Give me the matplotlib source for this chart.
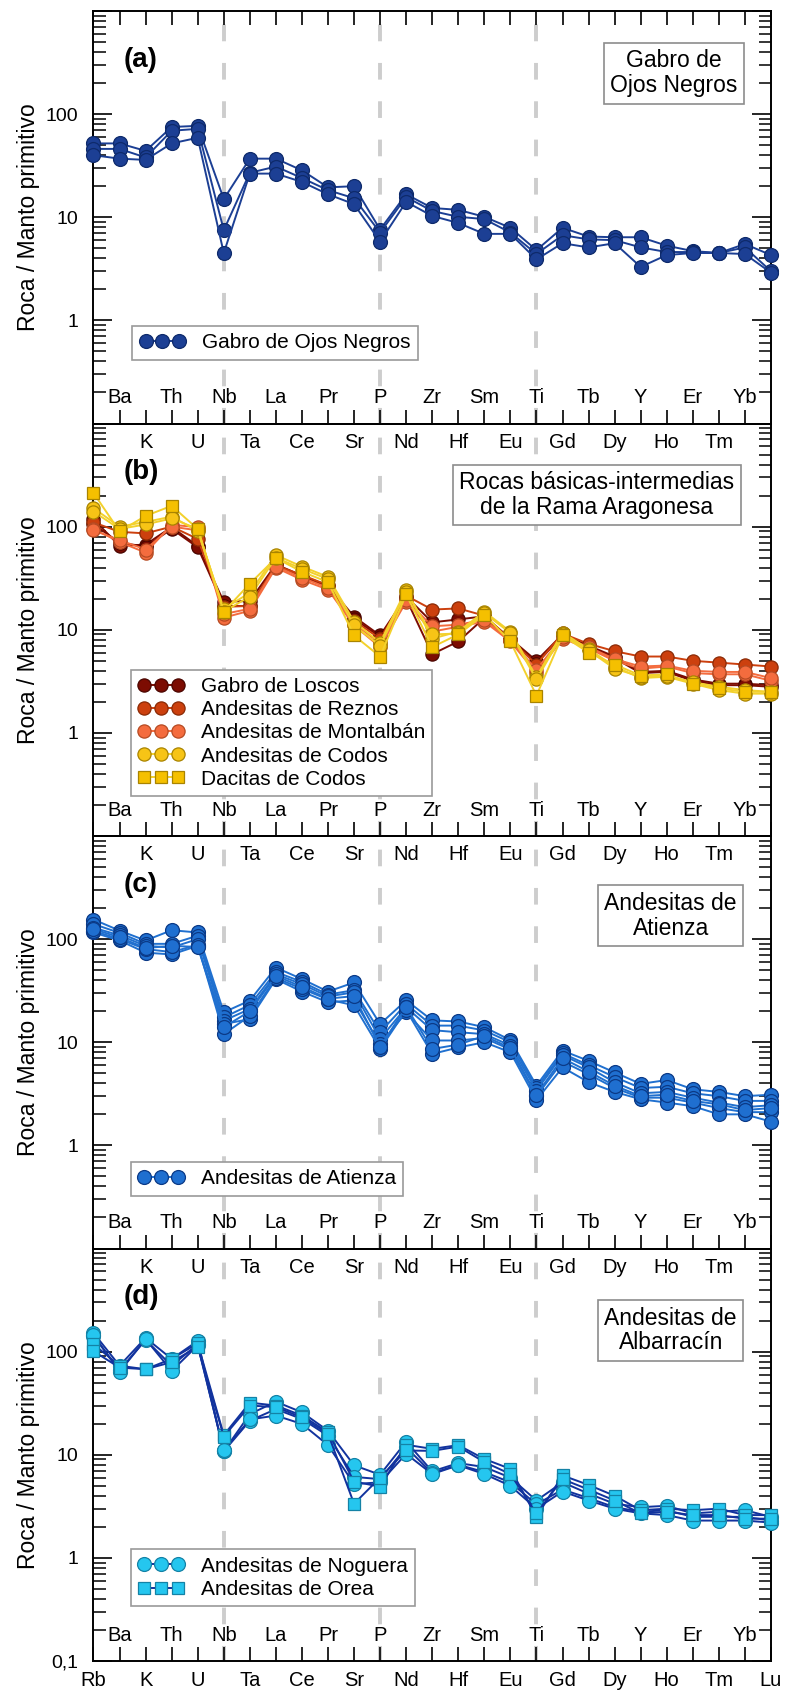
import matplotlib
matplotlib.use("Agg")
import matplotlib.pyplot as plt
from matplotlib.lines import Line2D
from matplotlib.ticker import LogLocator, NullFormatter

plt.rcParams['font.family'] = ['Liberation Sans', 'DejaVu Sans']
plt.rcParams['lines.scale_dashes'] = False

elements = ['Rb', 'Ba', 'K', 'Th', 'U', 'Nb', 'Ta', 'La', 'Ce', 'Pr', 'Sr', 'P', 'Nd', 'Zr',
            'Hf', 'Sm', 'Eu', 'Ti', 'Gd', 'Tb', 'Dy', 'Y', 'Ho', 'Er', 'Tm', 'Yb', 'Lu']
anomaly_elements = ['Nb', 'P', 'Ti']

# (a) Gabro de Ojos Negros
ojos_negros = [
    [52, 52, 44, 75, 77, 15, 37, 37, 28.5, 19.5, 20, 7.6, 16.7, 12.3, 11.8, 10.1, 7.9, 4.8, 7.9, 6.5, 6.4, 6.4, 5.3, 4.7, 4.5, 5.5, 4.3],
    [46, 46, 38, 69, 72, 7.5, 27, 31, 24, 18.3, 15.3, 7.1, 15.7, 11.5, 10.1, 9.6, 7.1, 4.4, 6.7, 6.1, 6.0, 5.1, 4.6, 4.6, 4.5, 5.1, 3.0],
    [40, 37, 36, 52, 59, 4.5, 26.5, 26.5, 22, 16.7, 13.4, 5.8, 14.1, 10.3, 8.8, 6.9, 6.9, 3.9, 5.6, 5.1, 5.6, 3.3, 4.3, 4.5, 4.5, 4.4, 2.9],
]

# (b) Rama Aragonesa
loscos = [
    [118, 65, 67, 99, 65, 18.7, 19, 43, 33.5, 26.8, 13.4, 8.8, 21, 11.8, 12.6, 13.5, 8.2, 5.0, 9.0, 7.0, 5.5, 3.9, 4.0, 3.3, 3.0, 3.0, 2.9],
    [105, 70, 64, 95, 63, 17, 17, 42, 33, 26, 12.8, 8.5, 20, 5.8, 7.7, 13, 8.0, 4.7, 8.8, 6.9, 5.3, 3.8, 3.9, 3.2, 2.9, 2.9, 2.8],
]
reznos = [
    [110, 89, 86, 100, 76, 16.7, 17, 42, 34, 27, 12.2, 8.2, 21.4, 15.7, 16.1, 13.7, 8.0, 4.6, 9.2, 7.3, 6.2, 5.5, 5.5, 5.0, 4.8, 4.6, 4.4],
]
montalban = [
    [95, 71, 56, 104, 99, 13.1, 15.3, 40, 30.5, 24.5, 11, 6.8, 18.7, 9.6, 10.7, 12, 7.7, 3.8, 8.2, 6.6, 5.0, 4.2, 4.4, 3.8, 3.7, 3.7, 3.2],
    [92, 74, 60, 100, 92, 14.2, 16, 41, 32, 25.5, 11.5, 7.4, 19.5, 10.8, 11.2, 12.5, 7.9, 4.1, 8.5, 6.8, 5.2, 4.4, 4.5, 4.0, 3.9, 3.9, 3.4],
]
codos_andesitas = [
    [151, 100, 111, 125, 91, 16, 22.8, 53, 41, 32.6, 12, 7.5, 24.5, 8.2, 9.6, 15, 9.6, 3.5, 9.4, 6.5, 4.4, 3.4, 3.5, 3.0, 2.6, 2.4, 2.4],
    [140, 95, 105, 120, 95, 15, 21, 50, 39, 31, 11, 7.0, 23, 9.0, 9.2, 14.5, 9.3, 3.3, 9.0, 6.3, 4.2, 3.5, 3.6, 3.1, 2.8, 2.6, 2.5],
]
codos_dacitas = [
    [212, 90, 127, 159, 95, 15, 28, 49.5, 36.5, 29, 8.8, 5.5, 22, 6.8, 9.0, 14, 7.7, 2.3, 8.8, 6.0, 4.6, 3.6, 3.7, 3.0, 2.7, 2.5, 2.5],
]

# (c) Andesitas de Atienza
atienza = [
    [155, 121, 97, 122, 116, 19.5, 25.4, 53, 41, 31, 38, 15, 25.5, 16.3, 15.9, 14, 10.5, 3.8, 8.3, 6.6, 5.1, 3.95, 4.3, 3.5, 3.3, 3.0, 3.1],
    [140, 115, 90, 90, 108, 17.4, 23, 48, 38.5, 29, 32, 12.5, 23.5, 14.5, 14.5, 13, 10, 3.6, 7.8, 6.0, 4.6, 3.6, 3.7, 3.2, 3.0, 2.7, 2.7],
    [129, 109, 86, 83, 100, 16.2, 21, 45.6, 36.6, 27.8, 30.5, 10.8, 21.8, 13.1, 12.5, 12, 9.3, 3.4, 7.5, 5.7, 4.1, 3.2, 3.3, 2.9, 2.6, 2.35, 2.45],
    [116, 97, 74, 71, 86, 15, 16.8, 40.9, 31, 24.4, 25.5, 9.6, 19.5, 10.4, 10.4, 11, 8.5, 3.0, 6.5, 4.9, 3.6, 2.9, 2.9, 2.6, 2.3, 2.1, 2.1],
    [120, 100, 80, 75, 88, 12, 18, 42, 33, 26, 22.8, 8.6, 20.5, 7.7, 8.9, 10, 8.0, 2.75, 5.7, 4.1, 3.3, 2.8, 2.6, 2.4, 2.0, 2.0, 1.7],
    [125, 104, 82, 86, 84, 14, 20, 44, 34.5, 26.5, 28, 9.0, 22, 8.6, 9.5, 11.5, 8.8, 3.1, 7.0, 5.2, 3.8, 3.0, 3.1, 2.7, 2.5, 2.2, 2.3],
]

# (d) Andesitas de Albarracín
noguera = [
    [152, 73, 136, 85, 127, 10.8, 24.8, 32.7, 25.8, 17.1, 7.9, 6.4, 13.4, 6.9, 8.3, 7.6, 6.0, 3.6, 5.4, 4.2, 3.35, 3.1, 3.2, 2.7, 2.8, 2.9, 2.5],
    [142, 66, 130, 73, 118, 10.8, 21.4, 27.7, 22.2, 15.3, 6.1, 5.8, 11.8, 6.6, 8.0, 6.8, 5.4, 3.3, 4.6, 3.8, 3.1, 2.8, 2.9, 2.5, 2.5, 2.5, 2.3],
    [145, 63.6, 132, 65, 115, 11, 22, 24, 19.9, 12.4, 5.2, 5.4, 10.2, 6.5, 7.9, 6.5, 5.0, 3.0, 4.4, 3.6, 3.0, 2.7, 2.6, 2.3, 2.3, 2.3, 2.2],
]
orea = [
    [118, 73, 67.5, 85, 120, 15.5, 32, 30, 24, 16.5, 5.5, 4.9, 12.5, 11.4, 12.4, 9.1, 7.3, 2.5, 6.3, 5.1, 4.0, 2.9, 3.0, 2.9, 3.0, 2.6, 2.6],
    [101, 70, 67.5, 79, 112, 15, 30, 29, 23, 16, 3.35, 6.0, 11, 10.9, 12.0, 8.5, 6.5, 2.7, 5.8, 4.6, 3.6, 2.7, 2.8, 2.6, 2.6, 2.4, 2.4],
]

x = list(range(len(elements)))

# series styles: label, samples, marker, face, edge, line colour, marker size
panels = [
    dict(tag='(a)', title='Gabro de\nOjos Negros', box=(0.857, 0.849), leg=(0.057, 0.155),
         series=[('Gabro de Ojos Negros', ojos_negros, 'o', '#1c3f94', '#0e2a6b', '#1c3f94', 10)]),
    dict(tag='(b)', title='Rocas básicas-intermedias\nde la Rama Aragonesa', box=(0.743, 0.827), leg=(0.055, 0.097),
         series=[('Gabro de Loscos', loscos, 'o', '#7c0c02', '#4a0500', '#7c0c02', 9.5),
                 ('Andesitas de Reznos', reznos, 'o', '#cc400e', '#8a2a05', '#cc400e', 9.5),
                 ('Andesitas de Montalbán', montalban, 'o', '#f46c3e', '#b64a22', '#f46c3e', 9.5),
                 ('Andesitas de Codos', codos_andesitas, 'o', '#f7c416', '#a98400', '#f3d12c', 9.5),
                 ('Dacitas de Codos', codos_dacitas, 's', '#f5c000', '#a98400', '#f3d12c', 8.5)]),
    dict(tag='(c)', title='Andesitas de\nAtienza', box=(0.852, 0.807), leg=(0.055, 0.128),
         series=[('Andesitas de Atienza', atienza, 'o', '#1f6fd0', '#0b3a87', '#2070cf', 10)]),
    dict(tag='(d)', title='Andesitas de\nAlbarracín', box=(0.852, 0.801), leg=(0.055, 0.133),
         series=[('Andesitas de Noguera', noguera, 'o', '#25c6ef', '#1482a6', '#12339e', 10),
                 ('Andesitas de Orea', orea, 's', '#25c6ef', '#1482a6', '#12339e', 8.5)]),
]

fig = plt.figure(figsize=(7.85, 16.93), dpi=100)
left, width = 0.1191, 0.863
bottom0, h = 0.0189, 0.24365

label_fs = 14.5
for i, p in enumerate(panels):
    ax = fig.add_axes([left, bottom0 + (3 - i) * h, width, h])
    ax.set_yscale('log')
    ax.set_ylim(0.1, 1000)
    ax.set_xlim(0, len(elements) - 1)

    # dashed guides at the Nb, P and Ti anomalies
    for el in anomaly_elements:
        xi = elements.index(el)
        ax.plot([xi, xi], [1000, 0.1], color='#cdcdcd', lw=2.8,
                ls=(17.8, (12, 15.6)), zorder=1, solid_capstyle='butt')

    handles = []
    for label, samples, mk, fc, ec, lc, ms in p['series']:
        for vals in samples:
            ax.plot(x, vals, color=lc, lw=1.4, marker=mk, mfc=fc, mec=ec, ms=ms,
                    mew=0.9, clip_on=False, zorder=3)
        handles.append(Line2D([], [], color=lc, lw=1.4, marker=mk, mfc=fc, mec=ec,
                              ms=ms, mew=0.9, label=label))

    leg = ax.legend(handles=handles, loc='lower left', bbox_to_anchor=p['leg'],
                    borderaxespad=0, numpoints=3, fontsize=15, fancybox=False,
                    framealpha=1, edgecolor='#9a9a9a', borderpad=0.35,
                    handlelength=2.2, handletextpad=0.8, labelspacing=0.2)
    leg.get_frame().set_linewidth(1.2)
    leg.set_zorder(5)

    ax.text(p['box'][0], p['box'][1], p['title'], transform=ax.transAxes,
            ha='center', va='center', multialignment='center', fontsize=16.5,
            linespacing=1.1, zorder=6,
            bbox=dict(boxstyle='square,pad=0.28', fc='white', ec='#8c8c8c', lw=1.2))

    ax.text(0.044, 0.882, p['tag'], transform=ax.transAxes, ha='left', va='center',
            fontsize=20, fontweight='bold')

    # element names: odd positions along the bottom inside each panel
    for j in range(1, len(elements), 2):
        ax.text(j, 0.063, elements[j], transform=ax.get_xaxis_transform(),
                ha='center', va='center', fontsize=label_fs)
    # even positions repeated under the panel above
    if i > 0:
        for j in range(2, len(elements) - 1, 2):
            ax.text(j, 0.954, elements[j], transform=ax.get_xaxis_transform(),
                    ha='center', va='center', fontsize=label_fs)

    ax.set_xticks(x)
    if i == 3:
        ax.set_xticklabels([e if k % 2 == 0 else '' for k, e in enumerate(elements)],
                           fontsize=label_fs)
    else:
        ax.set_xticklabels([])
    ax.tick_params(axis='x', which='major', direction='in', length=10, width=1.2,
                   top=(i == 0), bottom=True, pad=7)

    ax.set_yticks([0.1, 1, 10, 100, 1000])
    ax.set_yticklabels(['0,1' if i == 3 else '', '1', '10', '100', ''], fontsize=14)
    ax.yaxis.set_minor_locator(LogLocator(base=10, subs=range(2, 10)))
    ax.yaxis.set_minor_formatter(NullFormatter())
    ax.tick_params(axis='y', which='major', direction='in', length=14, width=1.2,
                   left=True, right=True, pad=11)
    ax.tick_params(axis='y', which='minor', direction='in', length=9, width=1.1,
                   left=True, right=True)

    ax.set_ylabel('Roca / Manto primitivo', fontsize=16.5)
    ax.yaxis.set_label_coords(-0.079, 0.5)

    for s in ax.spines.values():
        s.set_linewidth(1.4)
    ax.set_zorder(10 - i)
    ax.patch.set_alpha(0)

fig.savefig('out.png', dpi=100)
